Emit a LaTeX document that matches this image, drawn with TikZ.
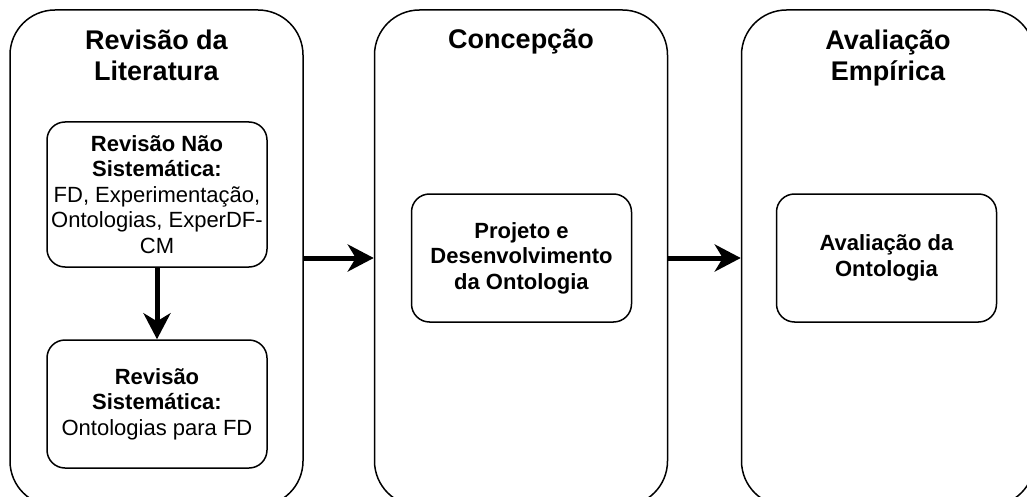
\documentclass[tikz,border=0pt]{standalone}
\usepackage{fontspec}
\setmainfont{Liberation Sans}
\usetikzlibrary{positioning,arrows.meta}

\begin{document}
\begin{tikzpicture}[x=1pt,y=-1pt,
	stage/.style={draw=black,line width=1.5pt,rounded corners=45pt,minimum width=293pt,minimum height=496pt,inner sep=0pt},
	stagetitle/.style={align=center,inner sep=0pt,font=\fontsize{27}{31}\selectfont\bfseries},
	task/.style={draw=black,line width=1.5pt,rounded corners=18pt,minimum width=220pt,minimum height=128pt,inner sep=0pt,align=center,font=\fontsize{22}{25.5}\selectfont},
	flow/.style={line width=5pt,-{Stealth[length=26pt,width=27pt,inset=8pt]}}]
	\path[use as bounding box,clip] (0,0) rectangle (1027,497);

	\node[stage] (lit)  at (156.5, 258) {};
	\node[stage] (conc) at (521, 258)   {};
	\node[stage] (aval) at (888, 258)   {};

	\node[stagetitle,below=20pt of lit.north]  (litT)  {Revisão da\\Literatura};
	\node[stagetitle,below=20pt of conc.north] (concT) {Concepção};
	\node[stagetitle,below=20pt of aval.north] (avalT) {Avaliação\\Empírica};

	\node[task,minimum height=145pt] (naosist) at (157, 194.5) {\textbf{Revisão Não}\\\textbf{Sistemática:}\\FD, Experimentação,\\Ontologias, ExperDF-\\CM};
	\node[task] (sist)    at (157, 404)   {\textbf{Revisão}\\\textbf{Sistemática:}\\Ontologias para FD};
	\node[task] (projeto) at (521.5, 258) {\textbf{Projeto e}\\\textbf{Desenvolvimento}\\\textbf{da Ontologia}};
	\node[task] (avalont) at (886.5, 258) {\textbf{Avaliação da}\\\textbf{Ontologia}};

	\draw[flow] (naosist) -- (sist);
	\draw[flow] (lit) -- (conc);
	\draw[flow] (conc) -- (aval);
\end{tikzpicture}
\end{document}
